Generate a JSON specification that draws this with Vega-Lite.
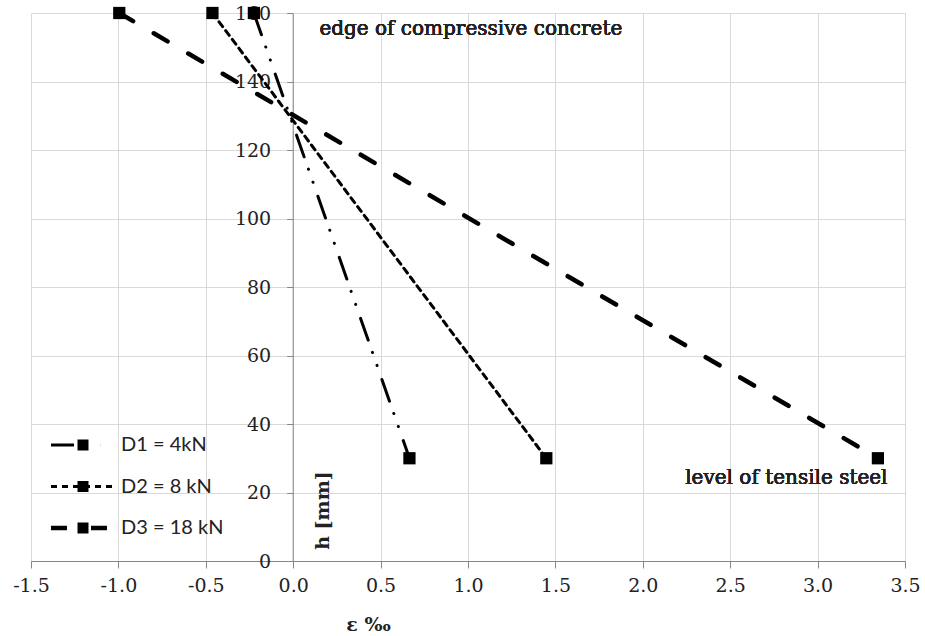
{
  "$schema": "https://vega.github.io/schema/vega-lite/v6.json",
  "width": 874,
  "height": 548,
  "autosize": {"type": "none"},
  "padding": {"left": 31, "top": 13, "right": 20, "bottom": 75},
  "background": "white",
  "config": {
    "view": {"stroke": null},
    "axis": {
      "gridColor": "#d9d9d9",
      "gridWidth": 1,
      "domainColor": "#868686",
      "tickColor": "#868686",
      "labelFont": "DejaVu Serif",
      "labelFontSize": 19,
      "labelColor": "#222222",
      "titleFont": "DejaVu Serif",
      "titleFontSize": 19,
      "titleColor": "#222222"
    }
  },
  "datasets": {
    "strain": [
      {"series": "D1 = 4kN", "eps": -0.225, "h": 160},
      {"series": "D1 = 4kN", "eps": 0.665, "h": 30},
      {"series": "D2 = 8 kN", "eps": -0.462, "h": 160},
      {"series": "D2 = 8 kN", "eps": 1.448, "h": 30},
      {"series": "D3 = 18 kN", "eps": -0.995, "h": 160},
      {"series": "D3 = 18 kN", "eps": 3.345, "h": 30}
    ]
  },
  "data": {"name": "strain"},
  "layer": [
    {
      "mark": {"type": "line", "color": "black", "strokeCap": "round"},
      "encoding": {
        "x": {
          "field": "eps",
          "type": "quantitative",
          "scale": {"domain": [-1.5, 3.5], "nice": false, "zero": false},
          "axis": {
            "title": "ε ‰",
            "values": [-1.5, -1, -0.5, 0, 0.5, 1, 1.5, 2, 2.5, 3, 3.5],
            "labelExpr": "replace(format(datum.value, '.1f'), '\u2212', '-')",
            "grid": true,
            "tickSize": 7,
            "labelPadding": 8,
            "labelFlush": false,
            "labelOverlap": false,
            "titleFontWeight": "bold",
            "titleX": 337,
            "titleY": 69,
            "titleAlign": "center",
            "titleBaseline": "alphabetic"
          }
        },
        "y": {
          "field": "h",
          "type": "quantitative",
          "scale": {"domain": [0, 160], "nice": false},
          "axis": {
            "title": "h [mm]",
            "values": [0, 20, 40, 60, 80, 100, 120, 140, 160],
            "offset": -261.7,
            "grid": true,
            "tickSize": 6,
            "labelPadding": 16,
            "labelOverlap": false,
            "labelFlush": false,
            "titleFontWeight": "bold",
            "titleAngle": -90,
            "titleX": 30,
            "titleY": 497,
            "titleAlign": "center",
            "titleBaseline": "middle"
          }
        },
        "strokeDash": {
          "field": "series",
          "type": "nominal",
          "scale": {
            "domain": ["D1 = 4kN", "D2 = 8 kN", "D3 = 18 kN"],
            "range": [[23, 13, 0.1, 13.7, 0.1, 14.8], [6, 5], [16, 24]]
          },
          "legend": {
            "title": null,
            "orient": "none",
            "legendX": 42,
            "legendY": 422,
            "padding": 0,
            "symbolType": "M-8,0H8",
            "symbolSize": 64,
            "symbolFillColor": "transparent",
            "symbolStrokeColor": "black",
            "labelFont": "Lato",
            "labelFontSize": 20,
            "labelColor": "#222222",
            "labelOffset": 28,
            "rowPadding": 21.5,
            "encode": {
              "symbols": {
                "update": {
                  "fill": {"value": "transparent"},
                  "stroke": {"value": "black"},
                  "strokeWidth": {"signal": "datum.label === 'D3 = 18 kN' ? 4.5 : 3"}
                }
              }
            }
          }
        },
        "strokeWidth": {
          "condition": {"test": "datum.series === 'D3 = 18 kN'", "value": 4.5},
          "value": 3
        }
      }
    },
    {
      "mark": {"type": "point", "filled": true, "color": "black", "size": 150, "opacity": 1},
      "encoding": {
        "x": {"field": "eps", "type": "quantitative"},
        "y": {"field": "h", "type": "quantitative"},
        "shape": {
          "field": "series",
          "type": "nominal",
          "scale": {"range": ["square", "square", "square"]},
          "legend": {
            "title": null,
            "orient": "none",
            "legendX": 42,
            "legendY": 422,
            "padding": 0,
            "symbolSize": 121,
            "symbolFillColor": "black",
            "symbolStrokeColor": "black",
            "symbolStrokeWidth": 0,
            "labelFont": "Lato",
            "labelFontSize": 20,
            "labelColor": "transparent",
            "labelOffset": 28,
            "rowPadding": 21.5
          }
        }
      }
    },
    {
      "mark": {"type": "text", "align": "left", "baseline": "middle", "font": "DejaVu Serif", "fontSize": 20, "color": "#222222"},
      "encoding": {
        "x": {"datum": 0.15},
        "y": {"datum": 155.2},
        "text": {"value": "edge of compressive concrete"}
      }
    },
    {
      "mark": {"type": "text", "align": "right", "baseline": "middle", "font": "DejaVu Serif", "fontSize": 20, "color": "#222222"},
      "encoding": {
        "x": {"datum": 3.4},
        "y": {"datum": 24.2},
        "text": {"value": "level of tensile steel"}
      }
    }
  ]
}
